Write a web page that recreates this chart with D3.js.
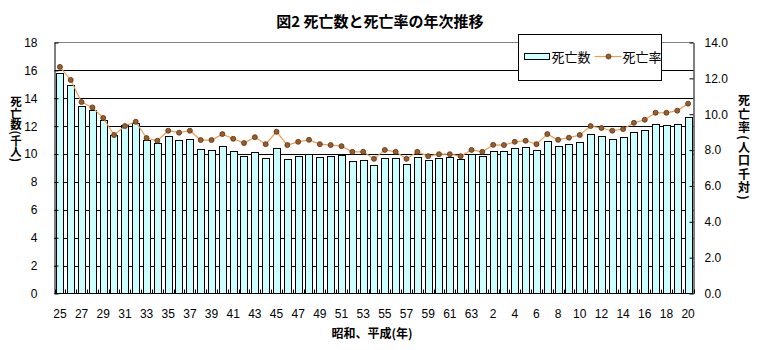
<!DOCTYPE html>
<html lang="ja">
<head>
<meta charset="utf-8">
<title>図2 死亡数と死亡率の年次推移</title>
<script src="https://cdn.jsdelivr.net/npm/d3@7/dist/d3.min.js"></script>
<style>
  html, body { margin: 0; padding: 0; background: #fff; }
  svg { display: block; }
  .num { font-family: "Liberation Sans", Arial, sans-serif; font-size: 12px; fill: #000; }
  .jp { font-family: "Noto Sans CJK JP", sans-serif; fill: #000; }
  .vert { writing-mode: vertical-rl; }
</style>
</head>
<body>
<svg id="chart" width="758" height="350"></svg>
<script>
// Era year labels: Showa 25–63, then Heisei 1–20
const showaYears = d3.range(25, 64).map(String);
const heiseiYears = d3.range(1, 21).map(String);
const years = showaYears.concat(heiseiYears);

// Deaths (thousand persons)
const deaths = [
  15.83, 14.96, 13.45, 13.17, 12.45, 11.37, 12.06, 12.20, 11.00, 10.79,
  11.29, 11.00, 11.08, 10.36, 10.29, 10.58, 10.24, 9.88, 10.14, 9.73,
  10.43, 9.66, 9.88, 9.97, 9.80, 9.88, 9.95, 9.52, 9.59, 9.21,
  9.71, 9.71, 9.28, 9.78, 9.59, 9.71, 9.78, 9.66, 10.00, 9.88,
  10.22, 10.22, 10.43, 10.53, 10.31, 10.96, 10.58, 10.72, 10.88, 11.44,
  11.29, 11.08, 11.22, 11.60, 11.75, 12.16, 12.09, 12.16, 12.68
];

// Death rate (per 1,000 population)
const rates = [
  12.64, 11.91, 10.68, 10.38, 9.79, 8.84, 9.34, 9.58, 8.67, 8.52,
  9.08, 8.97, 9.08, 8.56, 8.56, 8.89, 8.63, 8.39, 8.72, 8.33,
  9.02, 8.28, 8.46, 8.57, 8.33, 8.28, 8.22, 7.90, 7.90, 7.51,
  8.01, 7.90, 7.51, 7.90, 7.66, 7.77, 7.77, 7.66, 8.01, 7.90,
  8.29, 8.28, 8.46, 8.52, 8.33, 8.89, 8.57, 8.69, 8.84, 9.34,
  9.23, 9.08, 9.17, 9.52, 9.69, 10.08, 10.08, 10.20, 10.59
];

const leftTicks = d3.range(0, 19, 2);
const rightTicks = d3.range(0, 15, 2);

const titleText = "図2 死亡数と死亡率の年次推移";
const leftTitle = "死亡数(千人)";
const rightTitle = "死亡率(人口千対)";
const xTitle = "昭和、平成(年)";
const legendBar = "死亡数";
const legendLine = "死亡率";

const plot = { left: 54.5, right: 693.5, top: 42.5, bottom: 293.5 };

const svg = d3.select("#chart");

const x = d3.scaleBand()
  .domain(d3.range(years.length))
  .range([plot.left, plot.right])
  .paddingInner(0.34)
  .paddingOuter(0.17);

const yL = d3.scaleLinear().domain([0, 18]).range([plot.bottom, plot.top]);
const yR = d3.scaleLinear().domain([0, 14]).range([plot.bottom, plot.top]);

// Horizontal gridlines
svg.append("g")
  .selectAll("line")
  .data(leftTicks.filter(d => d > 0 && d < 18))
  .join("line")
  .attr("x1", plot.left).attr("x2", plot.right)
  .attr("y1", d => Math.round(yL(d)) + 0.5).attr("y2", d => Math.round(yL(d)) + 0.5)
  .attr("stroke", "#000").attr("stroke-width", 1);

// Plot-area top border
svg.append("line")
  .attr("x1", plot.left).attr("x2", plot.right)
  .attr("y1", plot.top).attr("y2", plot.top)
  .attr("stroke", "#808080");

// Bars
svg.append("g")
  .selectAll("rect")
  .data(deaths)
  .join("rect")
  .attr("x", (d, i) => Math.round(x(i)) + 0.5)
  .attr("width", Math.round(x.bandwidth()))
  .attr("y", d => Math.round(yL(d)) + 0.5)
  .attr("height", d => plot.bottom - Math.round(yL(d)) - 0.5)
  .attr("fill", "#CCFFFF")
  .attr("stroke", "#000")
  .attr("stroke-width", 1);

// Rate line and markers
const cx = i => x(i) + x.bandwidth() / 2;
svg.append("path")
  .datum(rates)
  .attr("fill", "none")
  .attr("stroke", "#EBA05A")
  .attr("stroke-width", 1.2)
  .attr("d", d3.line().x((d, i) => cx(i)).y(d => yR(d)));

svg.append("g")
  .selectAll("circle")
  .data(rates)
  .join("circle")
  .attr("cx", (d, i) => cx(i))
  .attr("cy", d => yR(d))
  .attr("r", 2.5)
  .attr("fill", "#9C5B2B")
  .attr("stroke", "#5C3311")
  .attr("stroke-width", 0.8);

// Left axis
const axL = svg.append("g")
  .attr("transform", `translate(${plot.left},0)`)
  .call(d3.axisLeft(yL).tickValues(leftTicks).tickSizeInner(-4).tickSizeOuter(0).tickPadding(17));
axL.select(".domain").attr("stroke", "#000");
axL.selectAll("line").attr("stroke", "#000");
axL.selectAll("text").attr("class", "num").attr("font-family", null).attr("font-size", null);

// Right axis
const axR = svg.append("g")
  .attr("transform", `translate(${plot.right},0)`)
  .call(d3.axisRight(yR).tickValues(rightTicks).tickFormat(d3.format(".1f")).tickSizeInner(-4).tickSizeOuter(0).tickPadding(11));
axR.select(".domain").attr("stroke", "#000");
axR.selectAll("line").attr("stroke", "#000");
axR.selectAll("text").attr("class", "num").attr("font-family", null).attr("font-size", null);

// Bottom axis: baseline, boundary ticks and alternate year labels
svg.append("line")
  .attr("x1", plot.left).attr("x2", plot.right)
  .attr("y1", plot.bottom).attr("y2", plot.bottom)
  .attr("stroke", "#000");

svg.append("g")
  .selectAll("line")
  .data(d3.range(years.length + 1))
  .join("line")
  .attr("x1", i => Math.round(plot.left + i * x.step()) + 0.5)
  .attr("x2", i => Math.round(plot.left + i * x.step()) + 0.5)
  .attr("y1", plot.bottom).attr("y2", plot.bottom - 4)
  .attr("stroke", "#000");

const axB = svg.append("g")
  .attr("transform", `translate(0,${plot.bottom})`)
  .call(d3.axisBottom(x)
    .tickValues(d3.range(0, years.length, 2))
    .tickFormat(i => years[i])
    .tickSize(0)
    .tickPadding(16));
axB.select(".domain").remove();
axB.selectAll("text").attr("class", "num").attr("font-family", null).attr("font-size", null);

// Titles
svg.append("text")
  .attr("class", "jp")
  .attr("x", 380).attr("y", 27)
  .attr("text-anchor", "middle")
  .attr("font-size", 15).attr("font-weight", "bold")
  .text(titleText);

svg.append("text")
  .attr("class", "jp")
  .attr("x", 372).attr("y", 338)
  .attr("text-anchor", "middle")
  .attr("font-size", 12).attr("font-weight", "bold")
  .text(xTitle);

// Vertical axis titles
svg.append("text")
  .attr("class", "jp vert")
  .attr("x", 16).attr("y", 129)
  .attr("text-anchor", "middle")
  .attr("font-size", 11.5).attr("font-weight", "bold")
  .text(leftTitle);

svg.append("text")
  .attr("class", "jp vert")
  .attr("x", 744).attr("y", 148)
  .attr("text-anchor", "middle")
  .attr("font-size", 12).attr("font-weight", "bold")
  .attr("letter-spacing", 1.5)
  .text(rightTitle);

// Legend
const lg = svg.append("g").attr("transform", "translate(518.5,34.5)");
lg.append("rect").attr("width", 143).attr("height", 46)
  .attr("fill", "#fff").attr("stroke", "#000");
lg.append("rect").attr("x", 6).attr("y", 19).attr("width", 25).attr("height", 6)
  .attr("fill", "#CCFFFF").attr("stroke", "#000");
lg.append("text").attr("class", "jp").attr("x", 33).attr("y", 27)
  .attr("font-size", 13).text(legendBar);
lg.append("line").attr("x1", 76).attr("x2", 103).attr("y1", 22).attr("y2", 22)
  .attr("stroke", "#EBA05A").attr("stroke-width", 1.2);
lg.append("circle").attr("cx", 90).attr("cy", 22).attr("r", 2.5)
  .attr("fill", "#9C5B2B").attr("stroke", "#5C3311").attr("stroke-width", 0.8);
lg.append("text").attr("class", "jp").attr("x", 104).attr("y", 27)
  .attr("font-size", 13).text(legendLine);
</script>
</body>
</html>
